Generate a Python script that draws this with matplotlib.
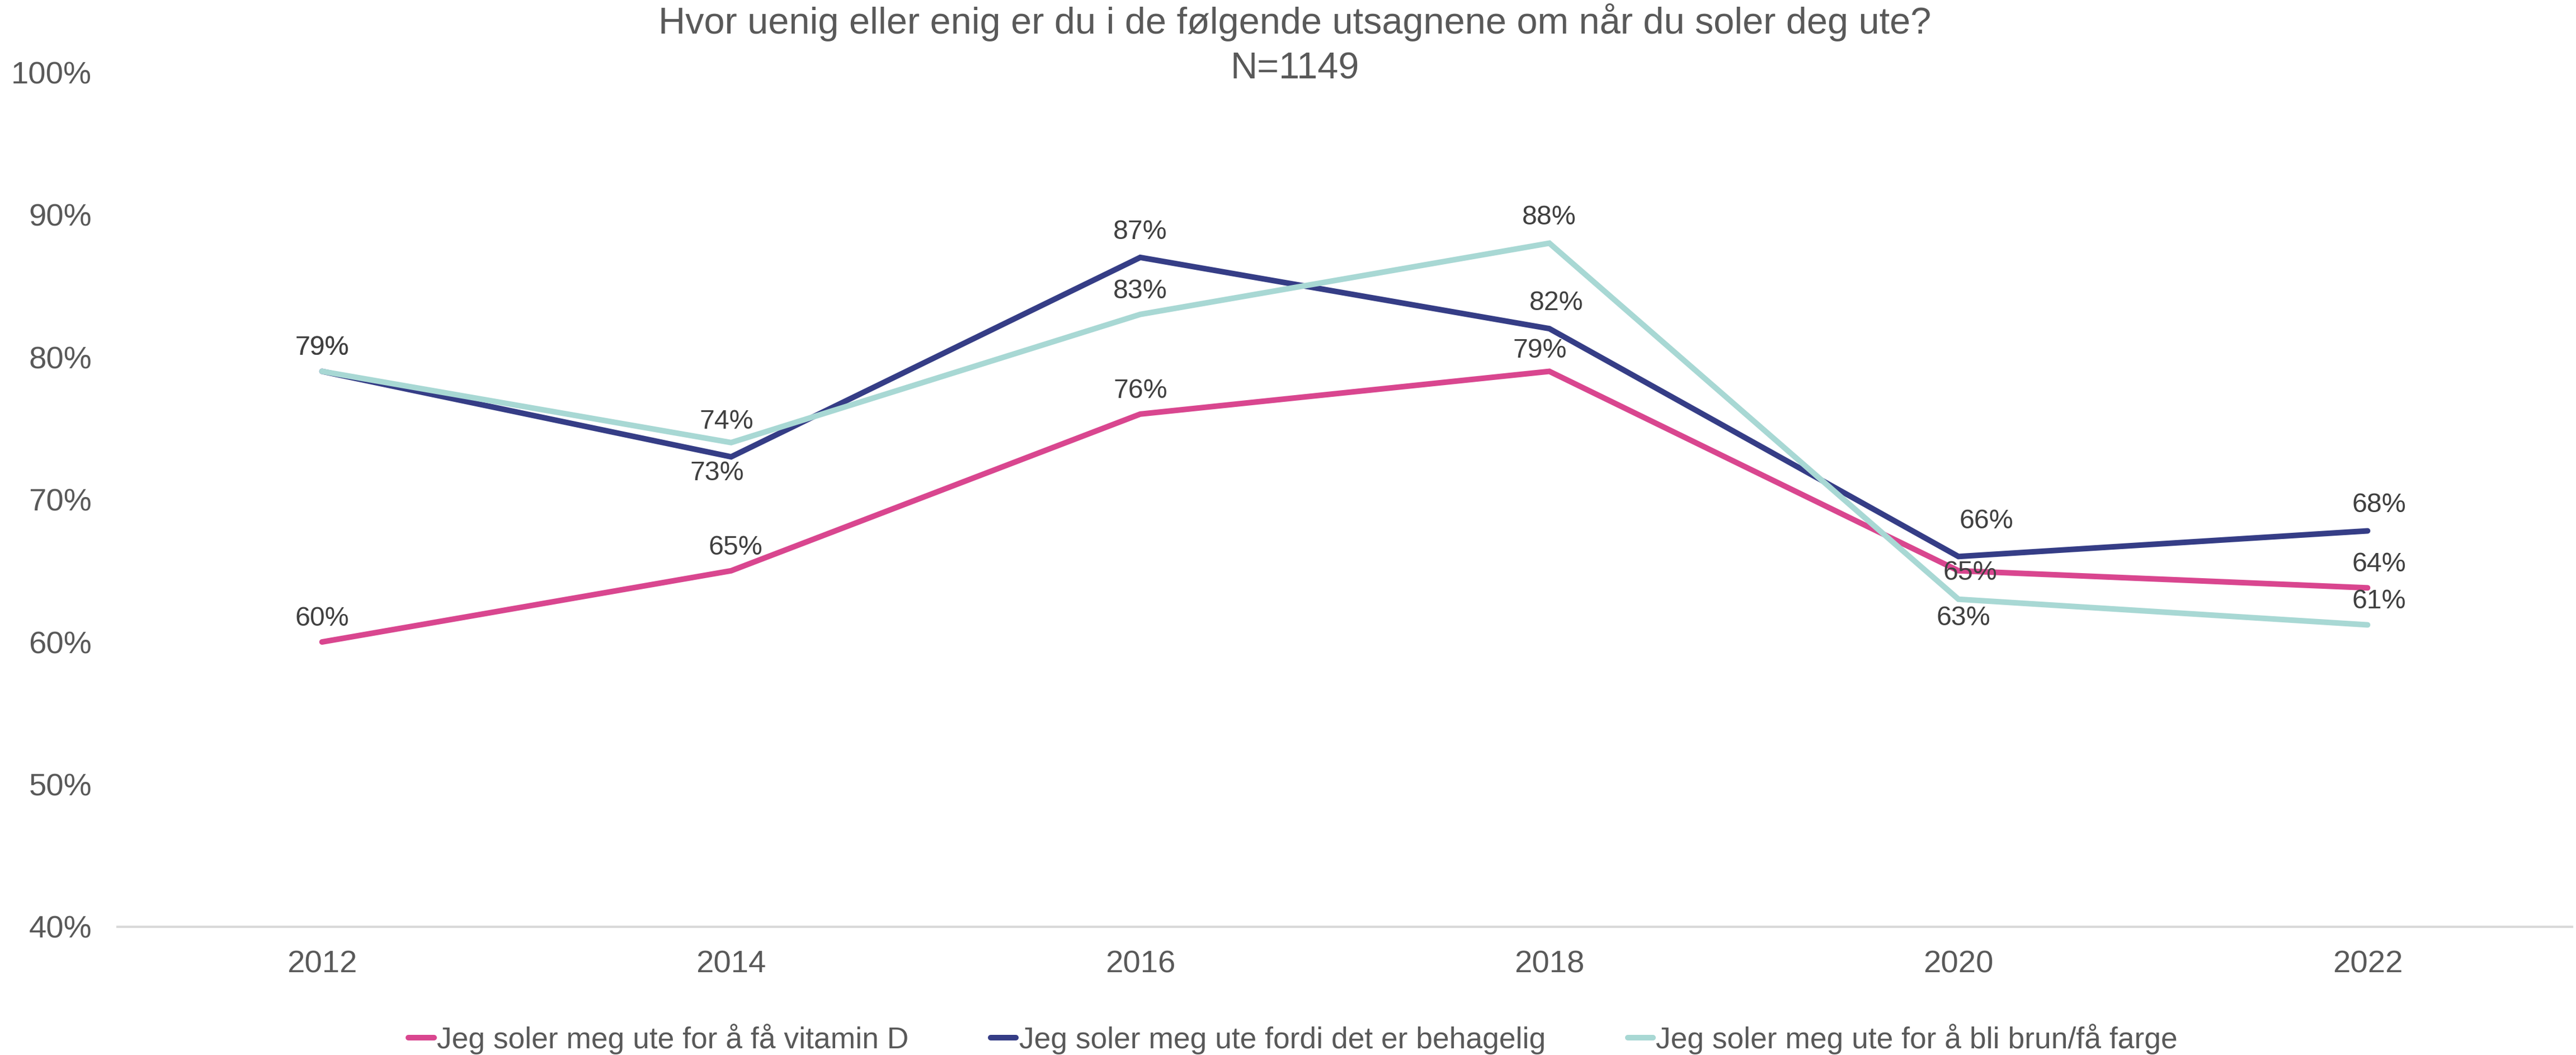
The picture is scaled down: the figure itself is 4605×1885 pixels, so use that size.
import matplotlib
matplotlib.use("Agg")
import matplotlib.pyplot as plt
from matplotlib.lines import Line2D

plt.rcParams['font.family'] = ['Liberation Sans', 'DejaVu Sans']

years = ["2012", "2014", "2016", "2018", "2020", "2022"]
vitamin_d = [60, 65, 76, 79, 65, 63.8]
behagelig = [79, 73, 87, 82, 66, 67.8]
brun = [79, 74, 83, 88, 63, 61.2]
series_names = ["Jeg soler meg ute for å få vitamin D",
                "Jeg soler meg ute fordi det er behagelig",
                "Jeg soler meg ute for å bli brun/få farge"]
title = "Hvor uenig eller enig er du i de følgende utsagnene om når du soler deg ute?\nN=1149"

colors = ["#D9468F", "#353D86", "#A8D8D4"]
# label offsets in points (dx, dy) per series / point
offsets = [
    [(0, 10), (2, 10), (0, 10), (-4, 9), (5, -1), (5, 10)],
    [(0, 10), (-6, -7), (0, 11), (3, 11), (12, 15), (5, 11)],
    [(0, 10), (-2, 9), (0, 10), (0, 11), (2, -8), (5, 10)],
]

fig = plt.figure(figsize=(4605 / 300, 1885 / 300), dpi=300)
ax = fig.add_axes([0.0456, 0.1215, 0.9529, 0.81])

x = list(range(len(years)))
all_series = [vitamin_d, behagelig, brun]
for vals, col, name, offs in zip(all_series, colors, series_names, offsets):
    ax.plot(x, [v / 100 for v in vals], color=col, lw=2.4, label=name,
            solid_capstyle='round', solid_joinstyle='miter')
    for xi, v, (dx, dy) in zip(x, vals, offs):
        ax.annotate(f"{round(v)}%", (xi, v / 100), xytext=(dx, dy),
                    textcoords='offset points', ha='center', va='center',
                    fontsize=11.6, color='#404040')

ax.set_xlim(-0.5, len(years) - 0.5)
ax.set_ylim(0.4, 1.0)
ax.set_xticks(x)
ax.set_xticklabels(years)
ax.set_yticks([0.4, 0.5, 0.6, 0.7, 0.8, 0.9, 1.0])
ax.set_yticklabels([f"{int(t)}%" for t in range(40, 101, 10)])
ax.tick_params(axis='both', length=0, labelsize=13.5, labelcolor='#595959')
ax.tick_params(axis='x', pad=10)
ax.tick_params(axis='y', pad=11)
for s in ['top', 'right', 'left']:
    ax.spines[s].set_visible(False)
ax.spines['bottom'].set_color('#D9D9D9')
ax.spines['bottom'].set_linewidth(1.0)

fig.text(0.5026, 0.997, title, ha='center', va='top', fontsize=16,
         color='#595959', linespacing=1.4)

handles = [Line2D([0], [0], color=c, lw=2.4, solid_capstyle='round') for c in colors]
fig.legend(handles, series_names, loc='lower center', bbox_to_anchor=(0.502, -0.025),
           ncol=3, frameon=False, fontsize=12.8, labelcolor='#595959',
           handlelength=0.85, handletextpad=0.1, columnspacing=2.75)

fig.savefig("out.png", dpi=300)
